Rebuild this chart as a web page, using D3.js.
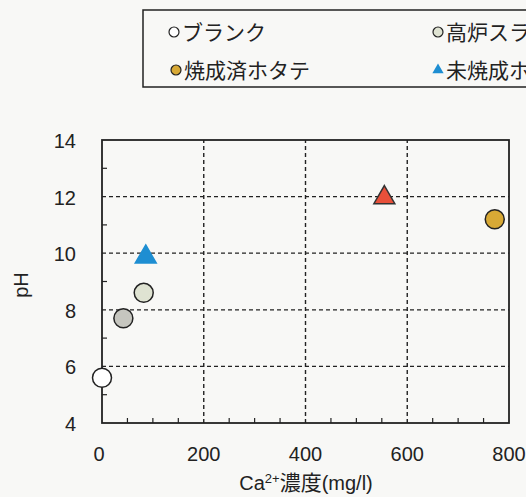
<!DOCTYPE html>
<html>
<head>
<meta charset="utf-8">
<script src="https://cdn.jsdelivr.net/npm/d3@7"></script>
<style>
  body { margin: 0; background: #f8f8f6; }
  svg { display: block; }
  text { font-family: "Liberation Sans", Arial, sans-serif; fill: #222; }
  .jp { font-family: "Noto Sans CJK JP", sans-serif; }
</style>
</head>
<body>
<div id="chart"></div>
<script>
// data
const labels   = ["ブランク", "高炉スラグ", "高炉スラグ", "未焼成ホタテ", "未焼成ホタテ", "焼成済ホタテ"];
const caValues = [0, 42, 82, 86, 555, 772];
const phValues = [5.6, 7.7, 8.6, 9.9, 12.0, 11.2];
const shapes   = ["circle", "circle", "circle", "triangle", "triangle", "circle"];
const fills    = ["#ffffff", "#c6c6bf", "#dfe3d2", "#1e8ed2", "#e8503a", "#d8a935"];

const legendNames  = ["ブランク", "高炉スラグ", "焼成済ホタテ", "未焼成ホタテ"];
const legendShapes = ["circle", "circle", "circle", "triangle"];
const legendFills  = ["#ffffff", "#dfe3d2", "#d8a935", "#1e8ed2"];

const xTicks = [0, 200, 400, 600, 800];
const yTicks = [4, 6, 8, 10, 12, 14];

const width = 526, height = 497;
const margin = { top: 140, right: 17, bottom: 74, left: 102 };

const svg = d3.select("#chart").append("svg")
    .attr("width", width)
    .attr("height", height);

const x = d3.scaleLinear().domain([0, 800]).range([margin.left, width - margin.right]);
const y = d3.scaleLinear().domain([4, 14]).range([height - margin.bottom, margin.top]);

// grid
svg.append("g").selectAll("line")
    .data(yTicks.filter(d => d > 4 && d < 14))
    .join("line")
    .attr("x1", x(0)).attr("x2", x(800))
    .attr("y1", d => y(d)).attr("y2", d => y(d))
    .attr("stroke", "#222").attr("stroke-width", 1.2)
    .attr("stroke-dasharray", "4,3");

svg.append("g").selectAll("line")
    .data(xTicks.filter(d => d > 0 && d < 800))
    .join("line")
    .attr("y1", y(4)).attr("y2", y(14))
    .attr("x1", d => x(d)).attr("x2", d => x(d))
    .attr("stroke", "#222").attr("stroke-width", 1.4)
    .attr("stroke-dasharray", "4,3");

// minor ticks (inside)
svg.append("g").selectAll("line")
    .data(d3.range(50, 800, 50).filter(d => d % 200 !== 0))
    .join("line")
    .attr("x1", d => x(d)).attr("x2", d => x(d))
    .attr("y1", y(4)).attr("y2", y(4) - 5)
    .attr("stroke", "#222").attr("stroke-width", 1.2);

svg.append("g").selectAll("line")
    .data([5, 7, 9, 11, 13])
    .join("line")
    .attr("x1", x(0)).attr("x2", x(0) + 5)
    .attr("y1", d => y(d)).attr("y2", d => y(d))
    .attr("stroke", "#222").attr("stroke-width", 1.2);

// frame
svg.append("rect")
    .attr("x", x(0)).attr("y", y(14))
    .attr("width", x(800) - x(0)).attr("height", y(4) - y(14))
    .attr("fill", "none").attr("stroke", "#222").attr("stroke-width", 1.8);

// tick labels
svg.append("g").selectAll("text")
    .data(yTicks)
    .join("text")
    .attr("x", 76).attr("y", d => y(d) + 8)
    .attr("text-anchor", "end")
    .style("font-size", "20px")
    .text(d => d);

svg.append("g").selectAll("text")
    .data(xTicks)
    .join("text")
    .attr("x", d => x(d) - (d === 0 ? 3 : 0)).attr("y", 461)
    .attr("text-anchor", "middle")
    .style("font-size", "20px")
    .text(d => d);

// axis titles
const xt = svg.append("text")
    .attr("x", 306).attr("y", 490)
    .attr("text-anchor", "middle")
    .style("font-size", "20px");
xt.append("tspan").text("Ca");
xt.append("tspan").attr("dy", -7).style("font-size", "13px").text("2+");
xt.append("tspan").attr("dy", 7).attr("class", "jp").style("font-size", "21px").text("濃度");
xt.append("tspan").text("(mg/l)");

svg.append("text")
    .attr("transform", "translate(28,285) rotate(-90)")
    .attr("text-anchor", "middle")
    .style("font-size", "20px")
    .text("pH");

// markers
const tri = d3.symbol().type(d3.symbolTriangle).size(190);

const pts = svg.append("g").selectAll("g")
    .data(caValues.map((v, i) => ({ ca: v, ph: phValues[i], shape: shapes[i], fill: fills[i] })))
    .join("g")
    .attr("transform", d => `translate(${x(d.ca)},${y(d.ph)})`);

pts.filter(d => d.shape === "circle").append("circle")
    .attr("r", 9.5)
    .attr("fill", d => d.fill)
    .attr("stroke", "#222").attr("stroke-width", 1.5);

pts.filter(d => d.shape === "triangle").append("path")
    .attr("d", tri)
    .attr("transform", "translate(0,1)")
    .attr("fill", d => d.fill)
    .attr("stroke", d => d.fill === "#e8503a" ? "#333" : d.fill)
    .attr("stroke-width", 1.5);

// legend box (runs off the right edge, as in the source)
svg.append("rect")
    .attr("x", 143).attr("y", 10)
    .attr("width", 420).attr("height", 77)
    .attr("fill", "none").attr("stroke", "#222").attr("stroke-width", 1.5);

const legendPos = [[174, 32], [438, 32], [176, 70], [438, 70]];
const lg = svg.append("g").selectAll("g")
    .data(legendNames.map((n, i) => ({ name: n, shape: legendShapes[i], fill: legendFills[i], pos: legendPos[i] })))
    .join("g")
    .attr("transform", d => `translate(${d.pos[0]},${d.pos[1]})`);

lg.filter(d => d.shape === "circle").append("circle")
    .attr("r", 5)
    .attr("fill", d => d.fill)
    .attr("stroke", "#222").attr("stroke-width", 1.2);

lg.filter(d => d.shape === "triangle").append("path")
    .attr("d", d3.symbol().type(d3.symbolTriangle).size(55))
    .attr("fill", d => d.fill);

lg.append("text")
    .attr("class", "jp")
    .attr("x", 8).attr("y", 8)
    .style("font-size", "21px")
    .text(d => d.name);
</script>
</body>
</html>
